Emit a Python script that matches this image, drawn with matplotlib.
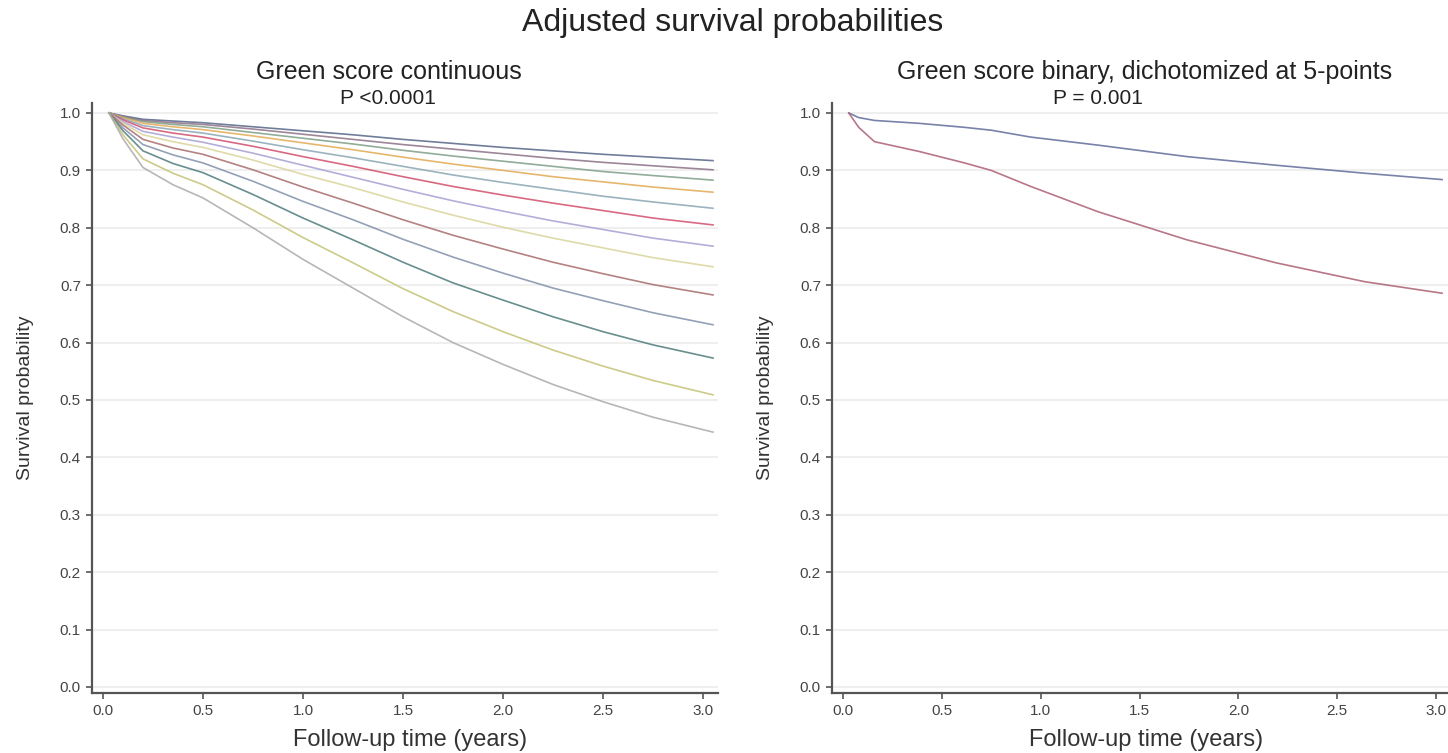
import matplotlib
matplotlib.use("Agg")
import matplotlib.pyplot as plt

# follow-up time (years)
times = [0.03, 0.1, 0.2, 0.35, 0.5, 0.75, 1.0, 1.25, 1.5, 1.75, 2.0, 2.25, 2.5, 2.75, 3.05]

# green score continuous: one curve per score level (top to bottom)
cont_curves = [
    [1.0, 0.995, 0.989, 0.986, 0.983, 0.976, 0.969, 0.962, 0.954, 0.947, 0.940, 0.934, 0.928, 0.923, 0.917],
    [1.0, 0.994, 0.987, 0.983, 0.980, 0.972, 0.963, 0.954, 0.945, 0.937, 0.929, 0.921, 0.914, 0.908, 0.901],
    [1.0, 0.993, 0.985, 0.980, 0.976, 0.966, 0.956, 0.946, 0.935, 0.925, 0.916, 0.907, 0.898, 0.891, 0.883],
    [1.0, 0.992, 0.982, 0.976, 0.971, 0.960, 0.948, 0.936, 0.923, 0.911, 0.900, 0.889, 0.880, 0.871, 0.862],
    [1.0, 0.990, 0.978, 0.971, 0.965, 0.951, 0.936, 0.922, 0.907, 0.892, 0.879, 0.867, 0.855, 0.845, 0.834],
    [1.0, 0.988, 0.974, 0.965, 0.958, 0.942, 0.924, 0.907, 0.889, 0.872, 0.857, 0.843, 0.830, 0.817, 0.805],
    [1.0, 0.985, 0.968, 0.958, 0.949, 0.930, 0.909, 0.888, 0.867, 0.847, 0.829, 0.812, 0.797, 0.782, 0.768],
    [1.0, 0.982, 0.962, 0.950, 0.940, 0.918, 0.893, 0.870, 0.845, 0.822, 0.801, 0.782, 0.765, 0.748, 0.732],
    [1.0, 0.979, 0.954, 0.939, 0.928, 0.901, 0.871, 0.843, 0.814, 0.787, 0.763, 0.740, 0.720, 0.701, 0.683],
    [1.0, 0.974, 0.945, 0.927, 0.913, 0.881, 0.846, 0.814, 0.780, 0.749, 0.721, 0.695, 0.673, 0.652, 0.631],
    [1.0, 0.969, 0.934, 0.912, 0.896, 0.858, 0.817, 0.779, 0.740, 0.704, 0.674, 0.645, 0.619, 0.596, 0.573],
    [1.0, 0.962, 0.920, 0.895, 0.875, 0.831, 0.783, 0.739, 0.694, 0.654, 0.619, 0.587, 0.559, 0.534, 0.509],
    [1.0, 0.955, 0.905, 0.875, 0.852, 0.800, 0.745, 0.695, 0.645, 0.600, 0.562, 0.527, 0.497, 0.470, 0.444],
]
cont_colors = ["#56668a", "#8c7088", "#7e9e86", "#e3aa55", "#8aa6b4", "#d24f6c",
               "#a6a0d2", "#d9d49a", "#a86c6c", "#8290aa", "#4f7a7a", "#c4c274", "#aaaaaa"]

# green score binary, dichotomized at 5 points
bin_times = [0.03, 0.08, 0.16, 0.385, 0.615, 0.75, 0.95, 1.29, 1.74, 2.19, 2.64, 3.03]
bin_low = [1.0, 0.992, 0.987, 0.982, 0.975, 0.970, 0.958, 0.944, 0.924, 0.909, 0.895, 0.884]
bin_high = [1.0, 0.975, 0.950, 0.933, 0.913, 0.900, 0.872, 0.828, 0.779, 0.739, 0.706, 0.686]

W, H = 1448, 753
plt.rcParams["font.family"] = ["Liberation Sans", "DejaVu Sans"]
fig = plt.figure(figsize=(W / 100, H / 100), dpi=100)

axc = "#555555"


def setup(ax, xmax):
    ax.set_xlim(-0.055, xmax)
    ax.set_ylim(-0.0105, 1.0174)
    ax.set_xticks([0.0, 0.5, 1.0, 1.5, 2.0, 2.5, 3.0])
    ax.set_yticks([i / 10 for i in range(11)])
    ax.set_xticklabels(["%.1f" % v for v in ax.get_xticks()])
    ax.set_yticklabels(["%.1f" % v for v in ax.get_yticks()])
    for s in ["top", "right"]:
        ax.spines[s].set_visible(False)
    for s in ["left", "bottom"]:
        ax.spines[s].set_color(axc)
        ax.spines[s].set_linewidth(1.6)
    ax.tick_params(colors=axc, labelcolor="#444444", labelsize=11, length=4, width=1.2, pad=4)
    ax.grid(axis="y", color="#efefef", lw=1.5)
    ax.set_axisbelow(True)


# left panel
ax1 = fig.add_axes([92 / W, 60 / H, 626 / W, 590 / H])
setup(ax1, 3.075)
for vals, c in zip(cont_curves, cont_colors):
    ax1.plot(times, vals, color=c, lw=1.2, alpha=0.85)

# right panel
ax2 = fig.add_axes([832 / W, 60 / H, 616 / W, 590 / H])
setup(ax2, 3.06)
ax2.plot(bin_times, bin_low, color="#6a74a0", lw=1.2, alpha=0.9)
ax2.plot(bin_times, bin_high, color="#b0687a", lw=1.2, alpha=0.9)

# text
tc = "#222222"
fig.text(733 / W, 1 - 23 / H, "Adjusted survival probabilities", ha="center", va="center",
         fontsize=23, color=tc)
fig.text(389 / W, 1 - 72 / H, "Green score continuous", ha="center", va="center",
         fontsize=18, color=tc)
fig.text(388 / W, 1 - 98 / H, "P <0.0001", ha="center", va="center", fontsize=15, color=tc)
fig.text(1145 / W, 1 - 72 / H, "Green score binary, dichotomized at 5-points", ha="center",
         va="center", fontsize=18, color=tc)
fig.text(1098 / W, 1 - 98 / H, "P = 0.001", ha="center", va="center", fontsize=15, color=tc)
for x in [410, 1146]:
    fig.text(x / W, 1 - 740 / H, "Follow-up time (years)", ha="center", va="center",
             fontsize=17, color="#333333")
for x in [26, 766]:
    fig.text(x / W, 1 - 398 / H, "Survival probability", ha="center", va="center",
             rotation=90, fontsize=14, color="#333333",
             family=["Liberation Sans Narrow", "Liberation Sans", "DejaVu Sans"])

fig.savefig("out.png", dpi=100)
